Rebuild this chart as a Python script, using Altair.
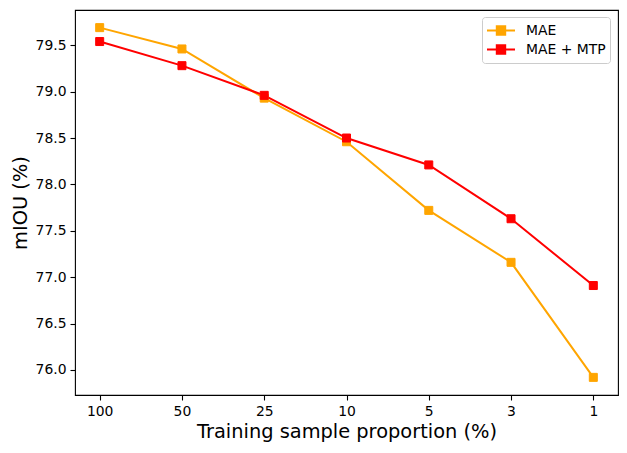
import altair as alt
import pandas as pd

proportions = ["100", "50", "25", "10", "5", "3", "1"]
mae = [79.69, 79.46, 78.93, 78.46, 77.72, 77.16, 75.92]
mae_mtp = [79.54, 79.28, 78.96, 78.50, 78.21, 77.63, 76.91]
series_names = ["MAE", "MAE + MTP"]
colors = ["orange", "red"]
y_ticks = [76.0, 76.5, 77.0, 77.5, 78.0, 78.5, 79.0, 79.5]

rows = []
for i, p in enumerate(proportions):
    rows.append({"proportion": p, "series": series_names[0], "miou": mae[i], "order": i})
    rows.append({"proportion": p, "series": series_names[1], "miou": mae_mtp[i], "order": i})
df = pd.DataFrame(rows)

FONT = "DejaVu Sans"

x = alt.X(
    "proportion:N",
    sort=proportions,
    scale=alt.Scale(type="point", padding=0.3),
    axis=alt.Axis(title="Training sample proportion (%)", labelAngle=0, titlePadding=5),
)
y = alt.Y(
    "miou:Q",
    scale=alt.Scale(domain=[75.73, 79.88], nice=False, zero=False),
    axis=alt.Axis(title="mIOU (%)", values=y_ticks, format=".1f", titlePadding=5),
)
color_scale = alt.Scale(domain=series_names, range=colors)
legend = alt.Legend(
    title=None,
    orient="none",
    legendX=407,
    legendY=7,
    symbolType="M-1,0L1,0M-0.3,-0.3L0.3,-0.3L0.3,0.3L-0.3,0.3Z",
    symbolSize=784,
    symbolStrokeWidth=2,
    symbolOpacity=1,
    clipHeight=19,
    rowPadding=0,
    labelFont=FONT,
    labelFontSize=13.9,
    labelColor="black",
    labelOffset=10,
    padding=4,
    strokeColor="#cccccc",
    fillColor="white",
    cornerRadius=3,
)

lines = alt.Chart(df).mark_line(strokeWidth=2).encode(
    x=x,
    y=y,
    stroke=alt.Stroke("series:N", scale=color_scale, legend=legend),
    detail="series:N",
    order="order:Q",
)
points = alt.Chart(df).mark_point(shape="square", filled=True, size=64, opacity=1, strokeWidth=1).encode(
    x=x,
    y=y,
    fill=alt.Fill("series:N", scale=color_scale, legend=legend),
    stroke=alt.Stroke("series:N", scale=color_scale, legend=legend),
)

chart = (
    alt.layer(lines, points)
    .properties(
        width=543,
        height=385,
        autosize=alt.AutoSizeParams(type="none"),
        padding={"left": 67, "top": 2, "right": 1, "bottom": 50},
        background="white",
    )
    .configure_view(stroke="black", strokeWidth=1.1)
    .configure_axis(
        domain=False,
        grid=False,
        tickColor="black",
        tickSize=5,
        tickWidth=1.1,
        labelColor="black",
        titleColor="black",
        labelFont=FONT,
        titleFont=FONT,
        labelFontSize=13.9,
        titleFontSize=19.4,
        titleFontWeight="normal",
        labelPadding=4,
    )
)

chart.save("out.html", embed_options={"renderer": "svg", "actions": False})
